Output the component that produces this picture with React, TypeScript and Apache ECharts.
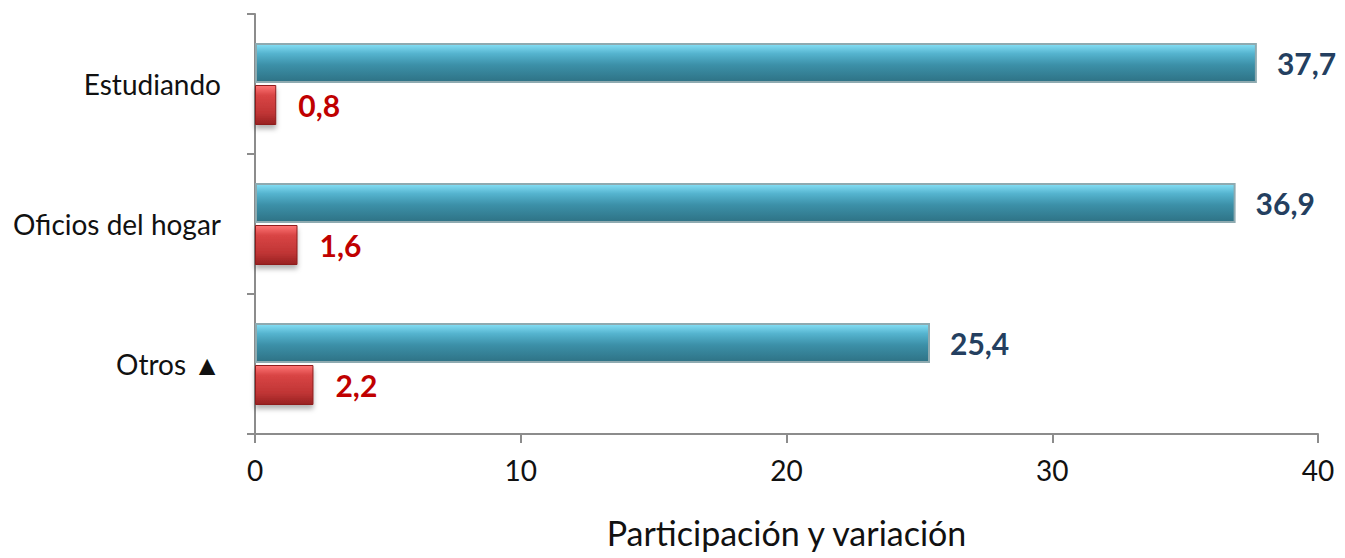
import React, { useEffect, useRef } from "react";
import * as echarts from "echarts";

const categories = ["Estudiando", "Oficios del hogar", "Otros ▲"];
const participacion = [37.7, 36.9, 25.4];
const variacion = [0.8, 1.6, 2.2];
const xTicks = { min: 0, max: 40, interval: 10 };
const axisTitle = "Participación y variación";

const fmt = (v: number) => v.toFixed(1).replace(".", ",");

export default function App() {
  const ref = useRef<HTMLDivElement>(null);
  useEffect(() => {
    if (!ref.current) return;
    const chart = echarts.init(ref.current, null, { renderer: "svg" });
    const font = "Lato, 'Open Sans', sans-serif";
    const tealGrad = new echarts.graphic.LinearGradient(0, 0, 0, 1, [
      { offset: 0, color: "#86E0F6" },
      { offset: 0.25, color: "#55B4CF" },
      { offset: 0.55, color: "#3C90A8" },
      { offset: 1, color: "#2E7285" },
    ]);
    const redGrad = new echarts.graphic.LinearGradient(0, 0, 0, 1, [
      { offset: 0, color: "#FF7676" },
      { offset: 0.25, color: "#D94545" },
      { offset: 0.7, color: "#C03535" },
      { offset: 1, color: "#982222" },
    ]);
    chart.setOption({
      animation: false,
      backgroundColor: "#ffffff",
      grid: {
        left: 255,
        right: 27,
        top: 14,
        bottom: 124,
        containLabel: false,
        outerBoundsMode: "none",
      },
      xAxis: {
        type: "value",
        min: xTicks.min,
        max: xTicks.max,
        interval: xTicks.interval,
        name: axisTitle,
        nameLocation: "middle",
        nameGap: 81,
        nameMoveOverlap: false,
        nameTextStyle: { fontFamily: font, fontSize: 34, color: "#111" },
        axisLine: { show: true, lineStyle: { color: "#8C8C8C", width: 2 } },
        axisTick: { show: true, length: 9, lineStyle: { color: "#8C8C8C", width: 2 } },
        splitLine: { show: false },
        axisLabel: { fontFamily: font, fontSize: 28, color: "#111", margin: 22 },
      },
      yAxis: {
        type: "category",
        data: categories,
        inverse: true,
        axisLine: { show: true, lineStyle: { color: "#8C8C8C", width: 2 } },
        axisTick: { show: true, length: 8, lineStyle: { color: "#8C8C8C", width: 2 } },
        axisLabel: { fontFamily: font, fontSize: 28, color: "#111", margin: 34 },
      },
      series: [
        {
          type: "bar",
          data: participacion,
          barWidth: 40,
          barGap: "5%",
          itemStyle: { color: tealGrad, borderColor: "#8EAAB0", borderWidth: 2 },
          label: {
            show: true,
            position: "right",
            distance: 20,
            formatter: (p: any) => fmt(p.value),
            fontFamily: font,
            fontWeight: "bold",
            fontSize: 30,
            color: "#243F60",
          },
        },
        {
          type: "bar",
          data: variacion,
          barWidth: 40,
          barGap: "5%",
          itemStyle: {
            color: redGrad,
            borderColor: "#8E1E1E",
            borderWidth: 1,
            shadowColor: "rgba(0,0,0,0.3)",
            shadowBlur: 5,
            shadowOffsetY: 4,
          },
          label: {
            show: true,
            position: "right",
            distance: 22,
            formatter: (p: any) => fmt(p.value),
            fontFamily: font,
            fontWeight: "bold",
            fontSize: 30,
            color: "#C00000",
          },
        },
      ],
    });
    return () => chart.dispose();
  }, []);
  return <div ref={ref} style={{ width: 1345, height: 558, marginLeft: -8, marginTop: -8 }} />;
}
